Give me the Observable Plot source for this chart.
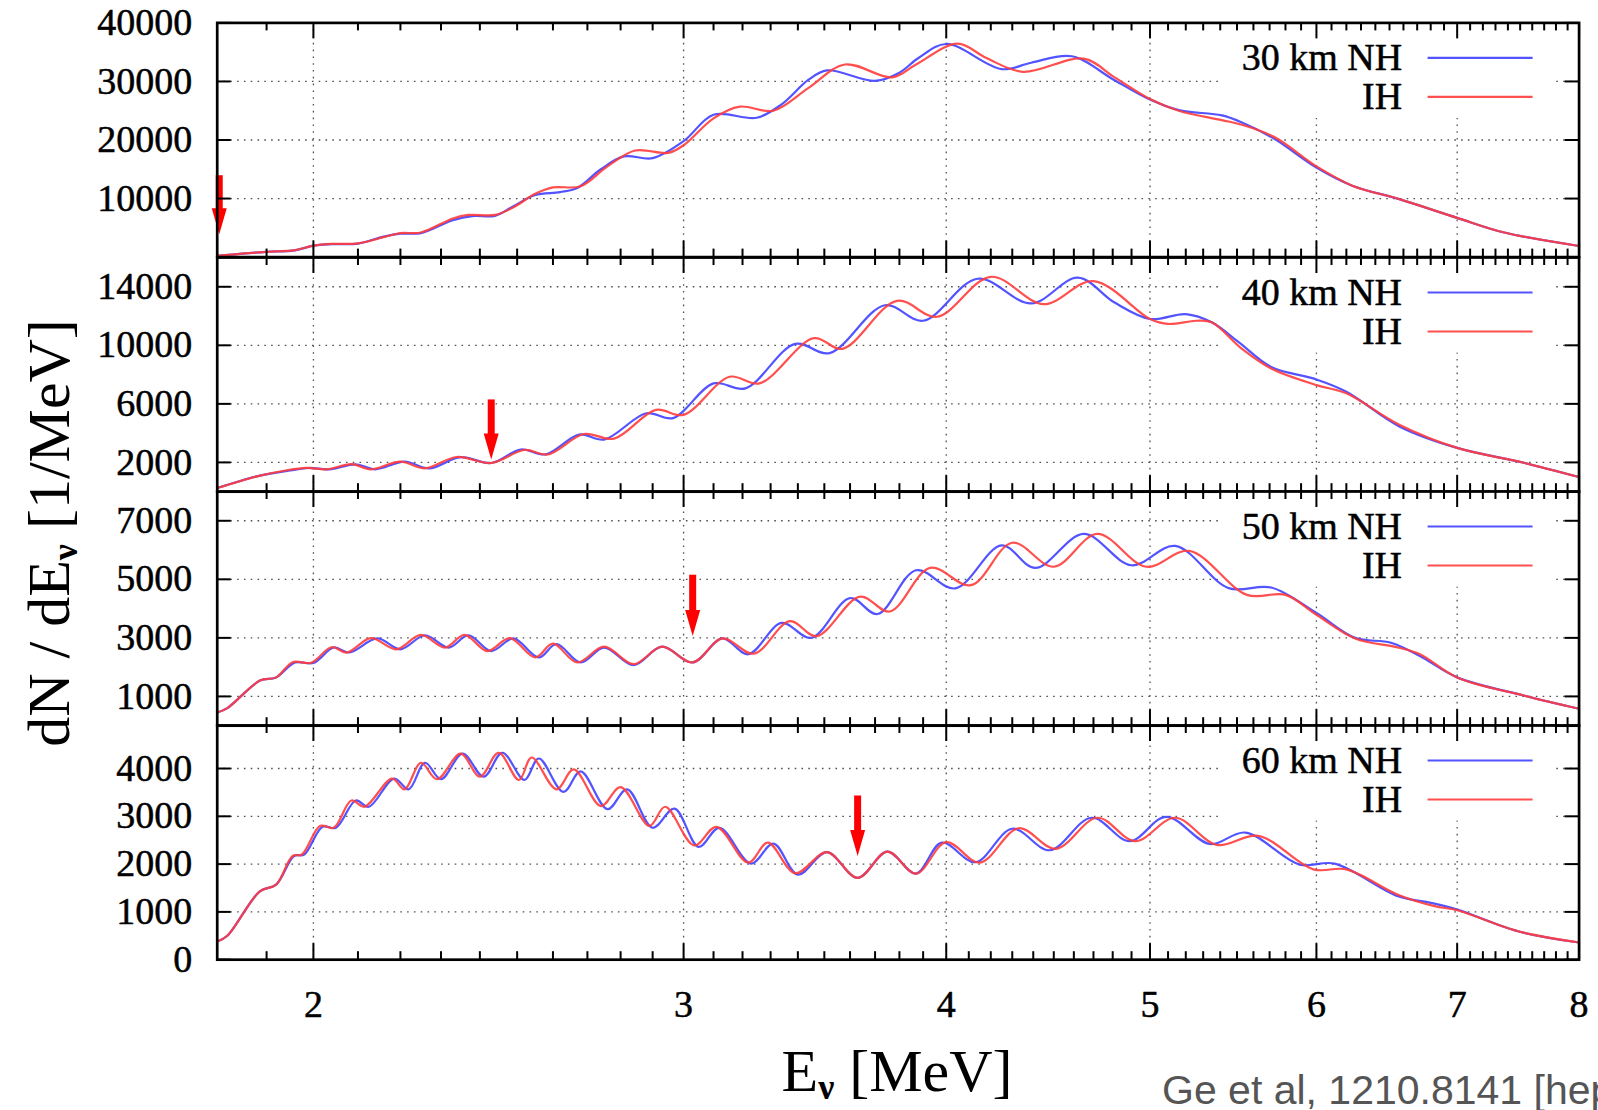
<!DOCTYPE html>
<html>
<head>
<meta charset="utf-8">
<script src="https://cdn.jsdelivr.net/npm/d3@7"></script>
<script src="https://cdn.jsdelivr.net/npm/@observablehq/plot@0.6"></script>
<style>
  html, body { margin: 0; padding: 0; background: #fff; overflow: hidden; }
  #chart { position: relative; width: 1598px; height: 1110px; overflow: hidden; background: #fff; }
  #chart svg { position: absolute; left: 0; }
  .title { position: absolute; left: 0; top: 0; white-space: nowrap; line-height: 0.8;
           font-family: "Liberation Serif", "Times New Roman", serif; color: #000; }
  .title sub { font-size: 0.6em; vertical-align: -0.22em; font-weight: bold; line-height: 0; }
  .caption { position: absolute; white-space: nowrap; line-height: 0.9;
             font-family: "Liberation Sans", Arial, sans-serif; color: #555; }
</style>
</head>
<body>
<div id="chart"></div>
<script>
// Reactor antineutrino spectra dN/dE (1/MeV) vs E (MeV) for four baselines,
// normal (NH) and inverted (IH) hierarchy. Each entry is [E, dN/dE].
const nh30 = [[1.80,200],[1.85,600],[1.90,900],[1.96,1150],[2.00,1950],[2.04,2200],[2.10,2300],[2.16,3500],[2.20,4000],[2.25,4100],[2.33,6300],[2.38,7000],[2.44,7050],[2.49,8700],[2.55,10600],[2.62,11100],[2.67,11800],[2.74,15000],[2.81,17200],[2.90,16900],[3.00,19800],[3.10,24300],[3.25,23800],[3.34,26100],[3.44,30300],[3.51,31900],[3.70,30100],[3.80,31500],[3.88,34000],[4.00,36400],[4.25,32100],[4.39,33200],[4.59,34300],[4.81,30200],[5.00,26900],[5.16,25100],[5.41,24200],[5.53,23000],[5.73,20200],[6.00,15300],[6.24,12200],[6.57,9900],[7.00,6700],[7.37,4200],[8.00,1900]];
const ih30 = [[1.80,200],[1.85,600],[1.90,900],[1.96,1200],[2.00,1950],[2.04,2250],[2.10,2350],[2.16,3400],[2.20,4100],[2.25,4200],[2.33,6600],[2.37,7200],[2.44,7200],[2.49,8500],[2.55,10800],[2.60,11900],[2.68,12100],[2.76,15500],[2.845,18200],[2.95,17800],[3.00,19100],[3.10,23700],[3.19,25700],[3.31,25000],[3.44,28900],[3.58,32900],[3.77,30700],[3.87,32900],[4.05,36450],[4.18,34000],[4.35,31650],[4.65,33900],[4.81,30700],[5.00,27000],[5.16,25000],[5.41,23400],[5.53,22600],[5.73,20500],[6.00,15500],[6.24,12200],[6.57,9900],[7.00,6700],[7.37,4200],[8.00,1900]];

const nh40 = [[1.80,250],[1.88,1050],[1.95,1450],[1.99,1620],[2.035,1530],[2.095,1870],[2.14,1530],[2.21,2050],[2.27,1590],[2.35,2360],[2.43,1960],[2.51,2880],[2.58,2550],[2.676,3900],[2.75,3560],[2.88,5360],[2.965,5025],[3.10,7400],[3.21,7060],[3.39,10100],[3.52,9470],[3.74,12740],[3.90,11680],[4.14,14550],[4.39,12860],[4.62,14620],[4.81,12920],[5.00,11800],[5.20,12130],[5.35,11570],[5.51,10220],[5.71,8520],[6.00,7670],[6.20,6830],[6.57,4460],[7.00,2990],[7.53,1980],[8.00,1000]];
const ih40 = [[1.80,250],[1.88,1050],[1.94,1450],[1.985,1630],[2.03,1530],[2.085,1880],[2.13,1530],[2.20,2060],[2.26,1600],[2.34,2370],[2.43,1960],[2.52,2850],[2.585,2540],[2.69,3940],[2.78,3625],[2.91,5590],[3.00,5250],[3.155,7850],[3.26,7400],[3.46,10490],[3.57,9760],[3.79,13040],[3.96,11950],[4.20,14680],[4.45,12810],[4.70,14390],[5.00,11800],[5.10,11460],[5.26,11680],[5.35,11570],[5.53,9760],[5.71,8410],[6.00,7280],[6.20,6720],[6.57,4570],[7.00,2990],[7.53,1980],[8.00,1000]];

const nh50 = [[1.80,450],[1.82,600],[1.886,1540],[1.92,1650],[1.96,2160],[2.00,2140],[2.045,2670],[2.08,2500],[2.145,2980],[2.20,2610],[2.26,3090],[2.32,2670],[2.37,3090],[2.43,2550],[2.49,2980],[2.56,2330],[2.61,2790],[2.68,2160],[2.75,2670],[2.84,2070],[2.93,2700],[3.03,2160],[3.13,2980],[3.22,2440],[3.34,3510],[3.45,3000],[3.60,4360],[3.71,3815],[3.87,5310],[4.04,4690],[4.25,6160],[4.41,5390],[4.65,6550],[4.90,5480],[5.14,6140],[5.45,4700],[5.71,4720],[6.00,3850],[6.26,3000],[6.51,2835],[6.72,2380],[7.00,1650],[7.53,1030],[8.00,580]];
const ih50 = [[1.80,450],[1.82,600],[1.886,1540],[1.92,1650],[1.955,2170],[1.995,2150],[2.04,2680],[2.075,2500],[2.13,2990],[2.19,2610],[2.25,3100],[2.31,2670],[2.36,3100],[2.42,2550],[2.48,2990],[2.55,2330],[2.60,2800],[2.67,2160],[2.75,2700],[2.84,2100],[2.93,2700],[3.03,2160],[3.13,2980],[3.24,2460],[3.37,3570],[3.47,3060],[3.64,4410],[3.76,3900],[3.93,5390],[4.11,4800],[4.30,6250],[4.50,5430],[4.72,6550],[4.98,5430],[5.22,5970],[5.56,4470],[5.80,4470],[6.00,3790],[6.26,2980],[6.56,2670],[6.72,2440],[7.00,1650],[7.53,1030],[8.00,580]];

const nh60 = [[1.80,380],[1.82,500],[1.886,1430],[1.92,1570],[1.958,2170],[1.98,2200],[2.02,2780],[2.05,2760],[2.095,3330],[2.125,3200],[2.185,3790],[2.22,3565],[2.26,4120],[2.30,3775],[2.355,4310],[2.41,3830],[2.46,4330],[2.52,3760],[2.56,4210],[2.63,3510],[2.68,3940],[2.76,3150],[2.82,3565],[2.90,2760],[2.97,3160],[3.05,2360],[3.12,2760],[3.23,2010],[3.31,2430],[3.40,1780],[3.51,2250],[3.63,1710],[3.75,2260],[3.87,1800],[3.98,2450],[4.13,2040],[4.30,2740],[4.48,2290],[4.69,2970],[4.89,2480],[5.09,2990],[5.34,2420],[5.55,2660],[5.89,1990],[6.12,2010],[6.56,1330],[6.80,1190],[7.00,1050],[7.49,590],[8.00,360]];
const ih60 = [[1.80,380],[1.82,500],[1.886,1430],[1.92,1570],[1.955,2170],[1.975,2200],[2.015,2800],[2.045,2760],[2.085,3330],[2.115,3200],[2.18,3790],[2.21,3565],[2.25,4120],[2.29,3775],[2.35,4310],[2.40,3830],[2.45,4330],[2.505,3760],[2.54,4230],[2.61,3565],[2.66,3980],[2.74,3215],[2.80,3610],[2.89,2800],[2.94,3200],[3.035,2390],[3.11,2780],[3.22,2030],[3.29,2450],[3.39,1810],[3.51,2250],[3.63,1710],[3.75,2260],[3.87,1800],[4.00,2460],[4.15,2030],[4.33,2750],[4.51,2320],[4.72,2970],[4.92,2480],[5.14,2970],[5.38,2400],[5.63,2590],[5.98,1890],[6.20,1890],[6.56,1360],[6.83,1120],[7.00,1035],[7.49,590],[8.00,360]];

// Panel settings
const baselines = ["30 km", "40 km", "50 km", "60 km"];
const yMax = [40000, 16000, 8000, 4900];
const yTicks30 = [10000, 20000, 30000, 40000];
const yTicks40 = [2000, 6000, 10000, 14000];
const yTicks50 = [1000, 3000, 5000, 7000];
const yTicks60 = [0, 1000, 2000, 3000, 4000];

// Red markers: energy where NH and IH are in phase (arrow tail and tip values)
const arrowEnergy = [1.804, 2.43, 3.03, 3.63];
const arrowTail = [13900, 6270, 5140, 3425];
const arrowTip = [3900, 2200, 3060, 2170];

// Energy axis
const energyDomain = [1.8, 8];
const energyTicks = [2, 3, 4, 5, 6, 7, 8];
const minorEnergyTicks = d3.range(19, 80).filter(i => i % 10 !== 0).map(i => i / 10);

const NH_COLOR = "#4040ff";
const IH_COLOR = "#ff3c3c";
const WIDTH = 1598, MARGIN_LEFT = 216.7, MARGIN_RIGHT = 19.4;
const PANEL_H = 234.2, FIRST_TOP = 22.4;
const INNER_W = WIDTH - MARGIN_LEFT - MARGIN_RIGHT;

// Filled arrow head with its tip at the anchor point
const arrowHead = {
  draw(context) {
    context.moveTo(-7.5, -26);
    context.lineTo(7.5, -26);
    context.lineTo(0, 0);
    context.closePath();
  }
};

const panels = [
  {label: baselines[0], nh: nh30, ih: ih30, yMax: yMax[0], yTicks: yTicks30},
  {label: baselines[1], nh: nh40, ih: ih40, yMax: yMax[1], yTicks: yTicks40},
  {label: baselines[2], nh: nh50, ih: ih50, yMax: yMax[2], yTicks: yTicks50},
  {label: baselines[3], nh: nh60, ih: ih60, yMax: yMax[3], yTicks: yTicks60}
];

const chart = document.getElementById("chart");
const dotted = {stroke: "#333", strokeWidth: 1.3, strokeDasharray: "1.6,5.2", strokeOpacity: 0.85};
const inked = {fill: "black", stroke: "black", strokeWidth: 0.5};

panels.forEach((p, i) => {
  const last = i === panels.length - 1;
  const mt = i === 0 ? FIRST_TOP : 6;
  const mb = last ? 150 : 6;
  const arrow = [{E: arrowEnergy[i], tail: arrowTail[i], tip: arrowTip[i]}];
  const gridValues = p.yTicks.filter(v => v > 0 && v < p.yMax);

  const marks = [
    // dotted grid
    Plot.ruleY(gridValues, {y: d => d, ...dotted}),
    Plot.ruleX(energyTicks.filter(e => e < 8), {x: d => d, ...dotted}),
    // opaque key box
    Plot.ruleY([p.yMax], {y: d => d, dy: 47.5, stroke: "white", strokeWidth: 95,
                          insetLeft: INNER_W - 360, insetRight: 23}),
    // spectra
    Plot.line(p.nh, {x: d => d[0], y: d => d[1], stroke: NH_COLOR, strokeWidth: 2.2,
                     strokeOpacity: 0.9, curve: "catmull-rom"}),
    Plot.line(p.ih, {x: d => d[0], y: d => d[1], stroke: IH_COLOR, strokeWidth: 2.2,
                     strokeOpacity: 0.9, curve: "catmull-rom"}),
    // in-phase marker
    Plot.ruleX(arrow, {x: "E", y1: "tail", y2: "tip", stroke: "#ff0000", strokeWidth: 7, insetBottom: 22}),
    Plot.dot(arrow, {x: "E", y: "tip", symbol: arrowHead, r: 1, fill: "#ff0000", stroke: "none"}),
    // key
    Plot.text([`${p.label} NH`], {text: d => d, frameAnchor: "top-right", lineAnchor: "middle",
                                  textAnchor: "end", dx: -177, dy: 35, ...inked}),
    Plot.text(["IH"], {text: d => d, frameAnchor: "top-right", lineAnchor: "middle",
                       textAnchor: "end", dx: -177, dy: 74, ...inked}),
    Plot.ruleY([p.yMax], {y: d => d, dy: 35, stroke: NH_COLOR, strokeWidth: 2.2, strokeOpacity: 0.9,
                          insetLeft: INNER_W - 151, insetRight: 46}),
    Plot.ruleY([p.yMax], {y: d => d, dy: 74, stroke: IH_COLOR, strokeWidth: 2.2, strokeOpacity: 0.9,
                          insetLeft: INNER_W - 151, insetRight: 46}),
    // inward ticks on all four sides
    Plot.tickX(minorEnergyTicks, {x: d => d, insetTop: PANEL_H - 8, stroke: "black", strokeWidth: 2}),
    Plot.tickX(minorEnergyTicks, {x: d => d, insetBottom: PANEL_H - 8, stroke: "black", strokeWidth: 2}),
    Plot.tickX(energyTicks, {x: d => d, insetTop: PANEL_H - 16, stroke: "black", strokeWidth: 2}),
    Plot.tickX(energyTicks, {x: d => d, insetBottom: PANEL_H - 16, stroke: "black", strokeWidth: 2}),
    Plot.tickY(p.yTicks, {y: d => d, insetRight: INNER_W - 14, stroke: "black", strokeWidth: 2}),
    Plot.tickY(p.yTicks, {y: d => d, insetLeft: INNER_W - 14, stroke: "black", strokeWidth: 2}),
    // y tick labels
    Plot.text(p.yTicks, {y: d => d, text: d => String(d), frameAnchor: "left", lineAnchor: "middle",
                         textAnchor: "end", dx: -25, ...inked}),
    Plot.frame({stroke: "black", strokeWidth: 2.7})
  ];
  if (last) {
    marks.push(Plot.text(energyTicks, {x: d => d, text: d => String(d), frameAnchor: "bottom",
                                       lineAnchor: "middle", dy: 45, ...inked}));
  }

  const svg = Plot.plot({
    width: WIDTH,
    height: mt + PANEL_H + mb,
    marginLeft: MARGIN_LEFT,
    marginRight: MARGIN_RIGHT,
    marginTop: mt,
    marginBottom: mb,
    x: {type: "log", domain: energyDomain, axis: null},
    y: {domain: [0, p.yMax], axis: null},
    style: {
      background: "transparent",
      overflow: "visible",
      fontFamily: "'Liberation Serif', 'Times New Roman', serif",
      fontSize: "38px",
      color: "black"
    },
    marks
  });
  const frameTop = FIRST_TOP + i * PANEL_H;
  svg.style.top = `${frameTop - mt}px`;
  chart.appendChild(svg);
});

// Axis titles and source note
const xTitle = document.createElement("div");
xTitle.className = "title";
xTitle.style.fontSize = "60px";
xTitle.style.transform = "translate(897px, 1047px) translateX(-50%)";
xTitle.innerHTML = "E<sub>ν</sub> [MeV]";
chart.appendChild(xTitle);

const yTitle = document.createElement("div");
yTitle.className = "title";
yTitle.style.fontSize = "60px";
yTitle.style.transformOrigin = "0 0";
yTitle.style.transform = "translate(25px, 533px) rotate(-90deg) translateX(-50%)";
yTitle.innerHTML = "dN / dE<sub>ν</sub> [1/MeV]";
chart.appendChild(yTitle);

const note = document.createElement("div");
note.className = "caption";
note.style.fontSize = "41px";
note.style.left = "1162px";
note.style.top = "1072px";
note.textContent = "Ge et al, 1210.8141 [hep-ph]";
chart.appendChild(note);
</script>
</body>
</html>
